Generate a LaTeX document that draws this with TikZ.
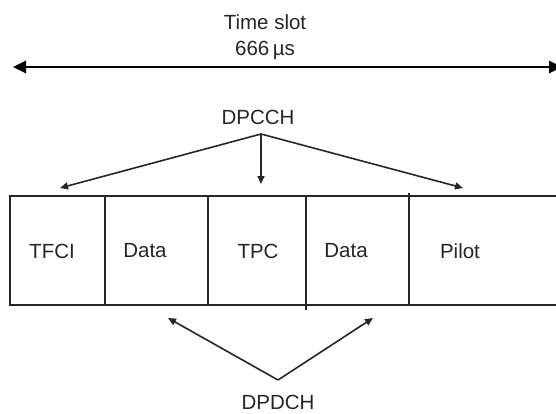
\documentclass[tikz,border=0pt]{standalone}
\usepackage{fontspec}
\setmainfont{Liberation Sans}
\usetikzlibrary{arrows.meta}
\begin{document}
\begin{tikzpicture}[x=1pt,y=-1pt,
  lbl/.style={font=\fontsize{20.5}{23}\selectfont, inner sep=0pt, text=black!85},
  slotline/.style={line width=2.2pt, draw=black!85},
  ptr/.style={line width=1.6pt, draw=black!85, -{Triangle[length=8pt,width=7pt]}},
  span/.style={line width=2.6pt, {Triangle[length=13pt,width=12pt]}-{Triangle[length=13pt,width=12pt]}}]
\useasboundingbox (0,0) rectangle (556,414);

% overall slot duration
\node[lbl] (ts) at (265,22) {Time slot};
\node[lbl] (dur) at (265,50) {666\,µs};
\coordinate (tl) at (13,67);
\coordinate (tr) at (562,67);
\draw[span] (tl) -- (tr);

% slot fields
\draw[slotline] (10,196) rectangle (562,305);
\draw[slotline] (105,196) -- (105,305);
\draw[slotline] (208,196) -- (208,305);
\draw[slotline] (306,196) -- (306,310);
\draw[slotline] (409,193) -- (409,305);
\node[lbl] (tfci) at (52,251) {TFCI};
\node[lbl] (d1) at (145,251) {Data};
\node[lbl] (tpc) at (258,251) {TPC};
\node[lbl] (d2) at (346,251) {Data};
\node[lbl] (pilot) at (460,251) {Pilot};

% control channel pointers
\node[lbl] (dpcch) at (258,117) {DPCCH};
\coordinate (ca) at (261,134);
\coordinate (cl) at (60,188);
\coordinate (cm) at (261,184);
\coordinate (cr) at (463,188);
\draw[ptr] (ca) -- (cl);
\draw[ptr] (ca) -- (cm);
\draw[ptr] (ca) -- (cr);

% data channel pointers
\node[lbl] (dpdch) at (278,402) {DPDCH};
\coordinate (da) at (278,380);
\coordinate (dl) at (168,318);
\coordinate (dr) at (373,318);
\draw[ptr] (da) -- (dl);
\draw[ptr] (da) -- (dr);
\end{tikzpicture}
\end{document}
